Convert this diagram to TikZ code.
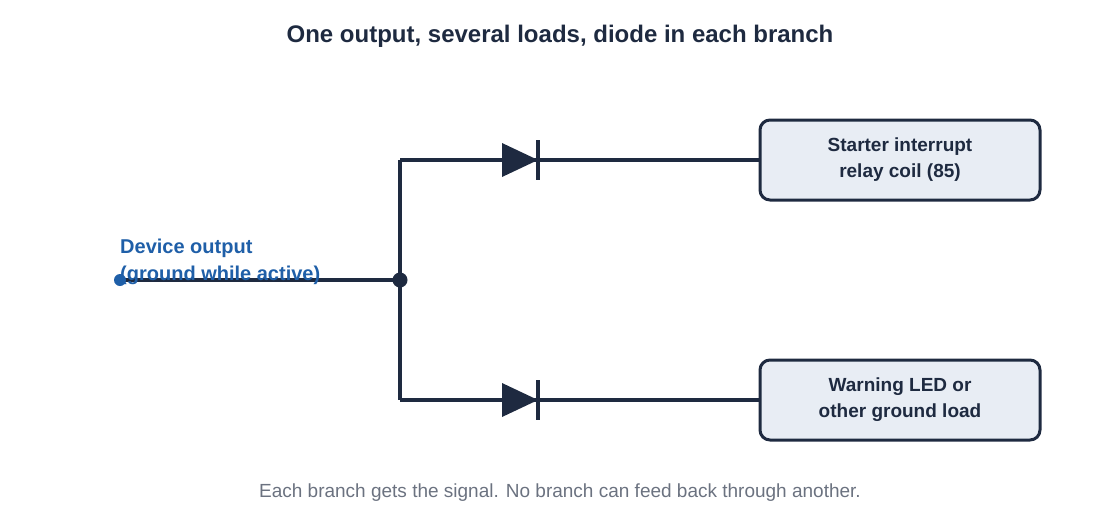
\documentclass[tikz,border=0pt]{standalone}
\usepackage{fontspec}
\setmainfont{Liberation Sans}
\begin{document}
\begin{tikzpicture}[x=1pt,y=-1pt,
  wire/.style={draw=navy,line width=3.5pt},
  load/.style={draw=navy,line width=3pt,fill=boxfill,rounded corners=10pt,minimum width=280pt,minimum height=80pt,align=center,font=\fontsize{19}{26}\selectfont\bfseries,text=navy},
  diode/.style={fill=navy}]
\definecolor{navy}{HTML}{1E2A40}
\definecolor{boxfill}{HTML}{E8EDF4}
\definecolor{blue}{HTML}{1F5FA8}
\definecolor{gray}{HTML}{6B7280}
\useasboundingbox (0,0) rectangle (1120,520);
\node (title) at (560,36) {\fontsize{24}{28}\selectfont\bfseries\color{navy}One output, several loads, diode in each branch};
\node[load] (b1) at (900,160) {Starter interrupt\\relay coil (85)};
\node[load] (b2) at (900,400) {Warning LED or\\other ground load};
\coordinate (src) at (120,280);
\coordinate (j) at (400,280);
\coordinate (t) at (400,160);
\coordinate (b) at (400,400);
\draw[wire] (src) -- (j);
\draw[wire] (t) -- (b);
\draw[wire] (t) -- (b1.west);
\draw[wire] (b) -- (b2.west);
\foreach \y in {160,400}{
  \fill[navy] (502,\y-17) -- (538,\y) -- (502,\y+17) -- cycle;
  \draw[navy,line width=3.5pt] (538,\y-20) -- (538,\y+20);
}
\fill[blue] (src) circle (6);
\fill[navy] (j) circle (7.5);
\node[anchor=west,align=left,inner sep=0,text=blue,font=\fontsize{20}{27}\selectfont\bfseries] (lbl) at (120,262) {Device output\\(ground while active)};
\node (foot) at (560,493) {\fontsize{19}{22}\selectfont\color{gray}Each branch gets the signal. No branch can feed back through another.};
\end{tikzpicture}
\end{document}
